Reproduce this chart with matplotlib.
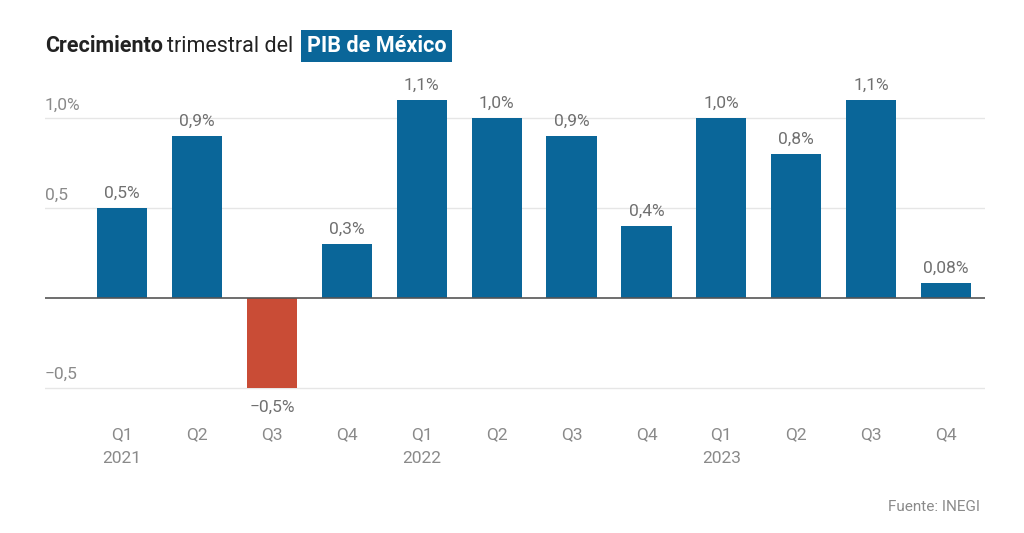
import matplotlib.pyplot as plt

# Data
quarters = ['Q1', 'Q2', 'Q3', 'Q4'] * 3
years = {0: '2021', 4: '2022', 8: '2023'}
growth = [0.5, 0.9, -0.5, 0.3, 1.1, 1.0, 0.9, 0.4, 1.0, 0.8, 1.1, 0.08]
labels = ['0,5%', '0,9%', '−0,5%', '0,3%', '1,1%', '1,0%', '0,9%', '0,4%',
          '1,0%', '0,8%', '1,1%', '0,08%']
yticks = [1.0, 0.5, -0.5]
ytick_labels = ['1,0%', '0,5', '−0,5']

blue = '#0a6699'
red = '#c94c36'
gray = '#8a8a8a'

plt.rcParams['font.family'] = ['Roboto', 'DejaVu Sans']

fig = plt.figure(figsize=(10.24, 5.33), dpi=100)
ax = fig.add_axes([45 / 1024, 1 - 420 / 533, 940 / 1024, 345 / 533])

x = list(range(len(growth)))
colors = [red if v < 0 else blue for v in growth]
ax.bar(x, growth, width=0.67, color=colors, zorder=2)

ax.set_xlim(-1.03, 11.52)
ax.set_ylim(-0.68, 1.24)

# Grid lines and y labels
for t, lab in zip(yticks, ytick_labels):
    ax.axhline(t, color='#e6e6e6', lw=1, zorder=1)
    ax.text(-1.03, t + 0.03, lab, ha='left', va='bottom', color=gray, fontsize=12.5)
ax.axhline(0, color='#555555', lw=1.2, zorder=3)

# Value labels
for i, (v, lab) in enumerate(zip(growth, labels)):
    if v >= 0:
        ax.text(i, v + 0.04, lab, ha='center', va='bottom', color='#707070', fontsize=12.5)
    else:
        ax.text(i, v - 0.07, lab, ha='center', va='top', color='#707070', fontsize=12.5)

# X labels
for i, q in enumerate(quarters):
    ax.text(i, -0.72, q, ha='center', va='top', color=gray, fontsize=12.5)
    if i in years:
        ax.text(i, -0.85, years[i], ha='center', va='top', color=gray, fontsize=12.5)

for s in ax.spines.values():
    s.set_visible(False)
ax.set_xticks([])
ax.set_yticks([])

# Title in pieces
fig.canvas.draw()
r = fig.canvas.get_renderer()
t1 = fig.text(45 / 1024, 1 - 46 / 533, 'Crecimiento', fontsize=15.5, fontweight='bold',
              color='#222222', va='center')
bb = t1.get_window_extent(r)
t2 = fig.text(bb.x1 / 1024 + 0.004, 1 - 46 / 533, 'trimestral del', fontsize=15.5,
              color='#222222', va='center')
bb = t2.get_window_extent(r)
fig.text(bb.x1 / 1024 + 0.013, 1 - 46 / 533, 'PIB de México', fontsize=15.5, fontweight='bold',
         color='white', va='center',
         bbox=dict(facecolor=blue, edgecolor='none', boxstyle='square,pad=0.25'))

fig.text(980 / 1024, 1 - 507 / 533, 'Fuente: INEGI', ha='right', va='center',
         color=gray, fontsize=11)

fig.savefig('out.png', dpi=100)
